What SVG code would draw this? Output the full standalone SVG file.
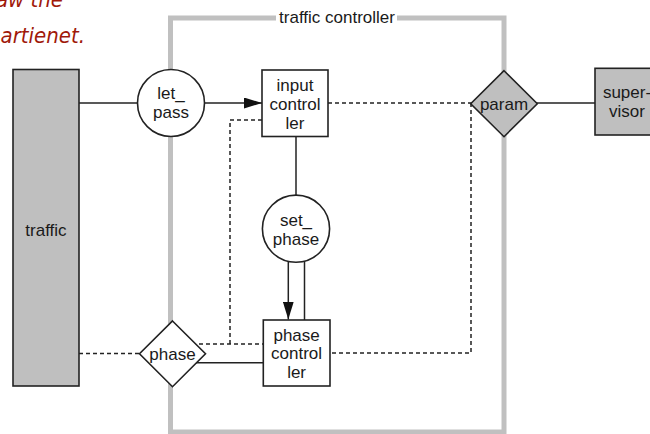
<svg xmlns="http://www.w3.org/2000/svg" width="650" height="434" viewBox="0 0 650 434">
<style>
.t{font-family:"Liberation Sans",Arial,sans-serif;font-size:17px;fill:#1a1a1a;text-anchor:middle}
.n{stroke:#222;stroke-width:1.6}
.w{fill:#fff}
.g{fill:#bfbfbf}
.c{fill:none;stroke:#222;stroke-width:1.5}
.d{fill:none;stroke:#222;stroke-width:1.5;stroke-dasharray:4 3}
.note{font-family:"DejaVu Sans Condensed","DejaVu Sans",sans-serif;font-style:italic;font-size:22px;fill:#a0190a;text-anchor:end}
</style>
<defs>
<marker id="ah" markerUnits="userSpaceOnUse" markerWidth="18" markerHeight="11" refX="18" refY="5.5" orient="auto">
<path d="M0,0 L18,5.5 L0,11 z" fill="#111"/>
</marker>
</defs>
<rect width="650" height="434" fill="#fff"/>
<g id="note">
<text class="note" x="63" y="7">aw the</text>
<text class="note" x="85" y="43">artienet.</text>
</g>
<g id="traffic_controller">
<rect x="170.5" y="18" width="333.5" height="414" fill="none" stroke="#c0c0c0" stroke-width="5"/>
<rect x="276" y="9" width="121" height="16" fill="#fff"/>
<text class="t" x="337" y="23">traffic controller</text>
</g>
<g id="connectors">
<line class="c" x1="79" y1="103" x2="171" y2="103"/>
<line class="c" x1="205" y1="103" x2="262" y2="103" marker-end="url(#ah)"/>
<line class="d" x1="328" y1="103" x2="504" y2="103"/>
<line class="c" x1="504" y1="103" x2="595" y2="103"/>
<path class="d" d="M471,103 V353 H330"/>
<path class="d" d="M262,120 H230 V344"/>
<line class="d" x1="185" y1="344" x2="263" y2="344"/>
<line class="d" x1="79" y1="353.5" x2="172" y2="353.5"/>
<line class="c" x1="185" y1="362.7" x2="263" y2="362.7"/>
<line class="c" x1="296" y1="137" x2="296" y2="200"/>
<line class="c" x1="288.3" y1="255" x2="288.3" y2="319.5" marker-end="url(#ah)"/>
<line class="c" x1="304.5" y1="255" x2="304.5" y2="320"/>
</g>
<g id="traffic">
<rect class="n g" x="13" y="69.5" width="66" height="316.5"/>
<text class="t" x="46" y="236">traffic</text>
</g>
<g id="let_pass">
<circle class="n w" cx="171" cy="103" r="33.5"/>
<text class="t" x="171" y="99">let_</text>
<text class="t" x="171" y="118">pass</text>
</g>
<g id="input_controller">
<rect class="n w" x="262" y="70" width="66" height="66.5"/>
<text class="t" x="295" y="90.5">input</text>
<text class="t" x="295" y="109.5">control</text>
<text class="t" x="295" y="128.5">ler</text>
</g>
<g id="param">
<path class="n g" d="M504,70.7 L537.3,103.7 L504,136.7 L470.7,103.7 z"/>
<text class="t" x="504" y="109.5">param</text>
</g>
<g id="supervisor">
<rect class="n g" x="595" y="68.3" width="64" height="66.7"/>
<text class="t" x="627" y="98">super-</text>
<text class="t" x="627" y="117">visor</text>
</g>
<g id="set_phase">
<circle class="n w" cx="296" cy="228.7" r="33.6"/>
<text class="t" x="296" y="226">set_</text>
<text class="t" x="296" y="244.5">phase</text>
</g>
<g id="phase">
<path class="n w" d="M172.5,321 L205.5,353.8 L172.5,386.7 L139.5,353.8 z"/>
<text class="t" x="172.5" y="359.8">phase</text>
</g>
<g id="phase_controller">
<rect class="n w" x="263.3" y="320" width="66.7" height="66"/>
<text class="t" x="296.6" y="340.5">phase</text>
<text class="t" x="296.6" y="359.3">control</text>
<text class="t" x="296.6" y="378.3">ler</text>
</g>
</svg>
